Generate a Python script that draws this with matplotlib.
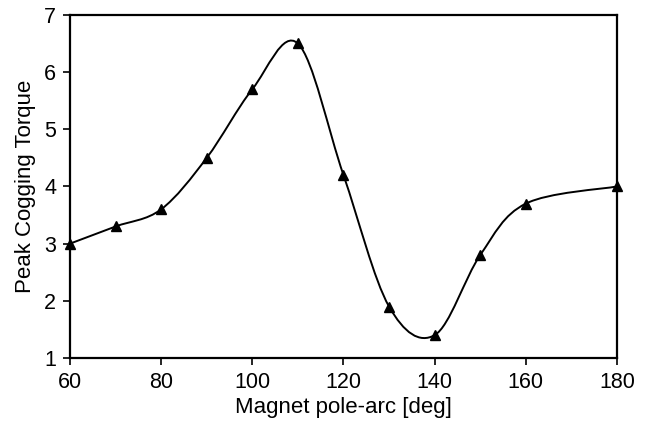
import matplotlib
matplotlib.use('Agg')

from matplotlib import pyplot as plt
from matplotlib.path import Path
from matplotlib.patches import PathPatch
import numpy as np

# data
pole_arc = [60, 70, 80, 90, 100, 110, 120, 130, 140, 150, 160, 180]
torque = [3.0, 3.3, 3.6, 4.5, 5.7, 6.5, 4.2, 1.9, 1.4, 2.8, 3.7, 4.0]

x_ticks = [60, 80, 100, 120, 140, 160, 180]
y_ticks = [1, 2, 3, 4, 5, 6, 7]

plt.rcParams['font.family'] = ['Liberation Sans', 'DejaVu Sans']


def smooth_path(xs, ys):
    # Excel-style smoothed line: cubic Bezier segments through the points
    pts = np.column_stack([xs, ys]).astype(float)
    n = len(pts)
    verts = [pts[0]]
    codes = [Path.MOVETO]
    for i in range(n - 1):
        p0 = pts[max(i - 1, 0)]
        p1 = pts[i]
        p2 = pts[i + 1]
        p3 = pts[min(i + 2, n - 1)]
        c1 = p1 + (p2 - p0) / 6.0
        c2 = p2 - (p3 - p1) / 6.0
        verts += [c1, c2, p2]
        codes += [Path.CURVE4] * 3
    return Path(verts, codes)


fig = plt.figure(figsize=(6.45, 4.21), dpi=100)
ax = fig.add_axes([0.1085, 0.1496, 0.848, 0.815])

ax.add_patch(PathPatch(smooth_path(pole_arc, torque), facecolor='none',
                       edgecolor='black', lw=1.4, zorder=2))
ax.plot(pole_arc, torque, linestyle='none', marker='^', color='black',
        ms=7.5, zorder=3, clip_on=False)

ax.set_xlim(60, 180)
ax.set_ylim(1, 7)
ax.set_xticks(x_ticks)
ax.set_yticks(y_ticks)
ax.tick_params(direction='out', length=5, width=1.2, labelsize=15.5,
               colors='black', pad=5)
for s in ax.spines.values():
    s.set_linewidth(1.6)
    s.set_color('black')

ax.set_xlabel('Magnet pole-arc [deg]', fontsize=16, labelpad=3)
ax.set_ylabel('Peak Cogging Torque', fontsize=16, labelpad=6)

plt.savefig('out.png', dpi=100)
